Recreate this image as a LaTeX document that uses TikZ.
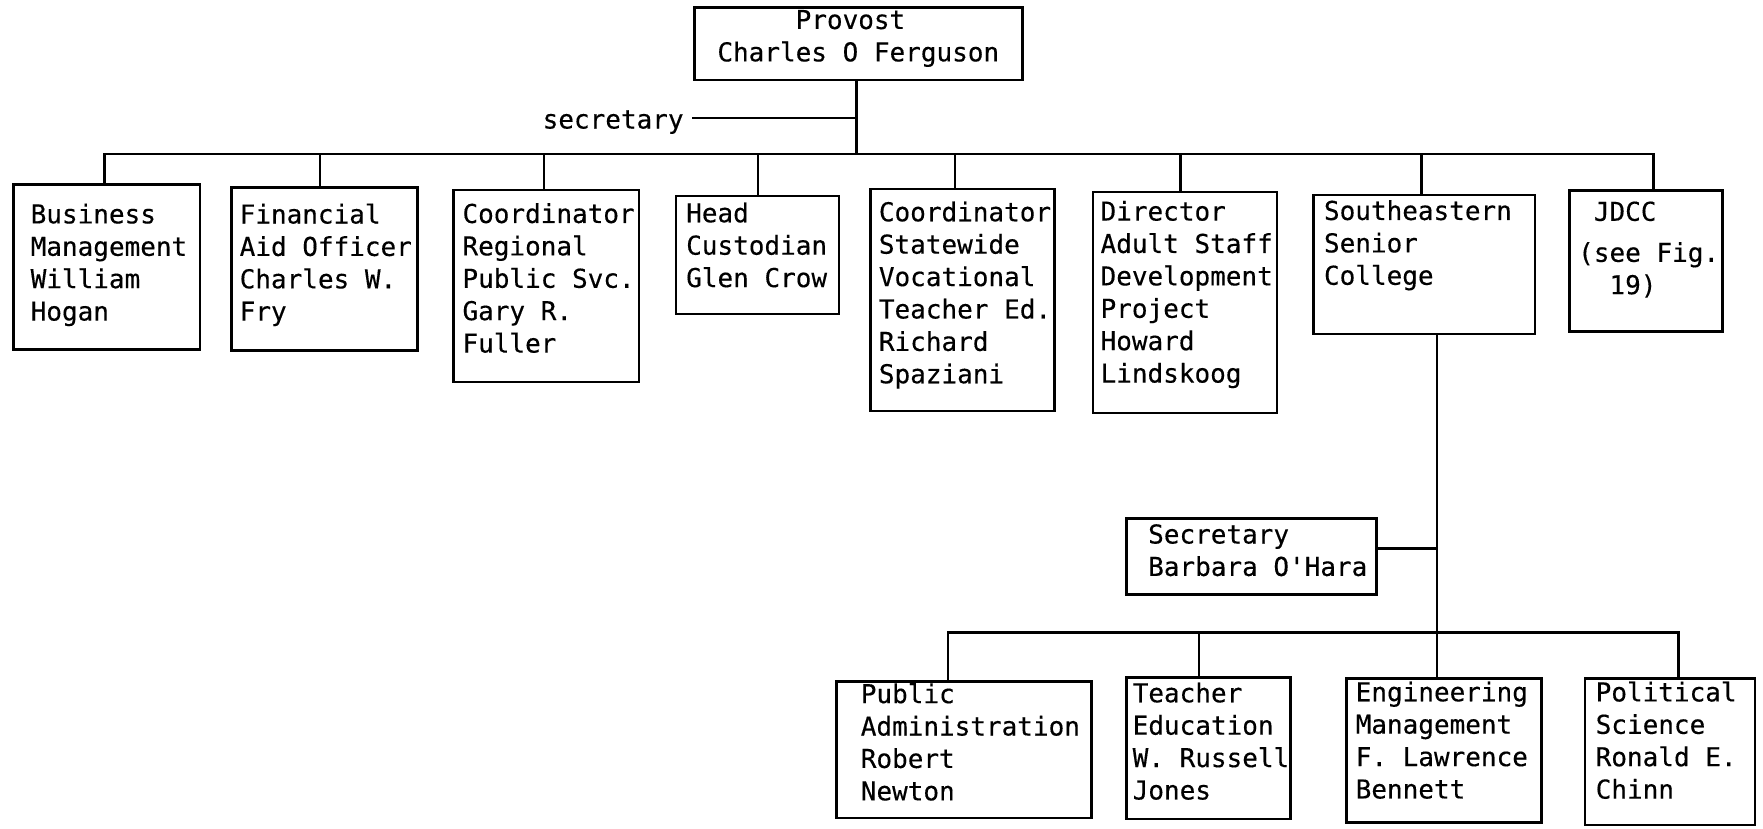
\documentclass[tikz,border=0pt]{standalone}
\usepackage{fontspec}
\newfontfamily\tw[FakeBold=0.3]{DejaVu Sans Mono}
\tikzset{
  boxst/.style={draw, line width=2.7pt, inner sep=0pt},
  txt/.style={font={\tw\fontsize{26}{32.4}\selectfont}, align=left, inner sep=0pt, anchor=north west, execute at begin node=\strut},
  conn/.style={line width=2.9pt, line cap=rect}
}
\newcommand\ph[1]{\hphantom{#1}}
\begin{document}
\begin{tikzpicture}[x=1pt,y=-1pt]
\fill[white] (0,0) rectangle (1763,828);
\useasboundingbox (0,0) rectangle (1763,828);
% boxes
\node[boxst, minimum width=327.8pt, minimum height=72.7pt] (prov) at (858.5,43.65) {};
\node[boxst, minimum width=186.5pt, minimum height=165pt] (bm) at (106.75,267) {};
\node[boxst, minimum width=185.6pt, minimum height=163.4pt] (fa) at (324.5,269) {};
\node[boxst, minimum width=185.5pt, minimum height=192pt] (cr) at (546.25,286) {};
\node[boxst, minimum width=163pt, minimum height=118pt] (hc) at (757.5,255) {};
\node[boxst, minimum width=184.3pt, minimum height=222pt] (cs) at (962.55,300) {};
\node[boxst, minimum width=184pt, minimum height=221pt] (dir) at (1185,302.5) {};
\node[boxst, minimum width=221.2pt, minimum height=139pt] (ssc) at (1424.4,264.5) {};
\node[boxst, minimum width=153.4pt, minimum height=141pt] (jd) at (1646,261.2) {};
\node[boxst, minimum width=249.6pt, minimum height=76pt] (sec) at (1251.5,556.3) {};
\node[boxst, minimum width=255pt, minimum height=136.3pt] (pa) at (964.3,749.85) {};
\node[boxst, minimum width=163.6pt, minimum height=141.7pt] (te) at (1208.5,748.15) {};
\node[boxst, minimum width=195.5pt, minimum height=144.4pt] (em) at (1443.95,750.5) {};
\node[boxst, minimum width=170pt, minimum height=146.7pt] (ps) at (1670,751.65) {};
% texts
\node[txt] (provt) at (717.2,9.8) {\ph{XXXXX}Provost\\Charles O Ferguson};
\node[font={\tw\fontsize{26}{32.4}\selectfont}, inner sep=0pt, anchor=base west] (sect) at (542.5,128.5) {secretary};
\node[txt] (bmt) at (30.5,203.4) {Business\\Management\\William\\Hogan};
\node[txt] (fat) at (239.5,203.4) {Financial\\Aid Officer\\Charles W.\\Fry};
\node[txt] (crt) at (462.3,203) {Coordinator\\Regional\\Public Svc.\\Gary R.\\Fuller};
\node[txt] (hct) at (686,202.3) {Head\\Custodian\\Glen Crow};
\node[txt] (cst) at (878.7,201.3) {Coordinator\\Statewide\\Vocational\\Teacher Ed.\\Richard\\Spaziani};
\node[txt] (dirt) at (1100.4,200.6) {Director\\Adult Staff\\Development\\Project\\Howard\\Lindskoog};
\node[txt] (ssct) at (1323.8,200) {Southeastern\\Senior\\College};
\node[txt] (jdt) at (1578,201.3) {\ph{X}JDCC\\[8.6pt](see Fig.\\\ph{XX}19)};
\node[txt] (sect2) at (1148,524) {Secretary\\Barbara O'Hara};
\node[txt] (pat) at (860.6,683) {Public\\Administration\\Robert\\Newton};
\node[txt] (tet) at (1132.5,682.3) {Teacher\\Education\\W. Russell\\Jones};
\node[txt] (emt) at (1355.5,681.3) {Engineering\\Management\\F. Lawrence\\Bennett};
\node[txt] (pst) at (1595.5,681.3) {Political\\Science\\Ronald E.\\Chinn};
% junction coordinates
\coordinate (pj) at (856.5,154);
\coordinate (sj) at (856.5,118);
\coordinate (j1) at (104.5,154);
\coordinate (j2) at (320,154);
\coordinate (j3) at (544,154);
\coordinate (j4) at (758,154);
\coordinate (j5) at (955,154);
\coordinate (j6) at (1180.8,154);
\coordinate (j7) at (1421.5,154);
\coordinate (j8) at (1653.3,154);
\coordinate (sv) at (1437,334);
\coordinate (svs) at (1437,548.3);
\coordinate (k1) at (948,632.7);
\coordinate (k2) at (1199,632.7);
\coordinate (k4) at (1678.8,632.7);
% connectors
\draw[conn] (pj |- prov.south) -- (pj);
\draw[conn] ([xshift=10pt]sect.east |- sj) -- (sj);
\draw[conn] (j1) -- (j8);
\foreach \j/\b in {j1/bm,j2/fa,j3/cr,j4/hc,j5/cs,j6/dir,j7/ssc,j8/jd}
  \draw[conn] (\j) -- (\j |- \b.north);
\draw[conn] (sv |- ssc.south) -- (sv |- em.north);
\draw[conn] (sec.east |- svs) -- (svs);
\draw[conn] (k1) -- (k4);
\foreach \j/\b in {k1/pa,k2/te,k4/ps}
  \draw[conn] (\j) -- (\j |- \b.north);
\end{tikzpicture}
\end{document}
